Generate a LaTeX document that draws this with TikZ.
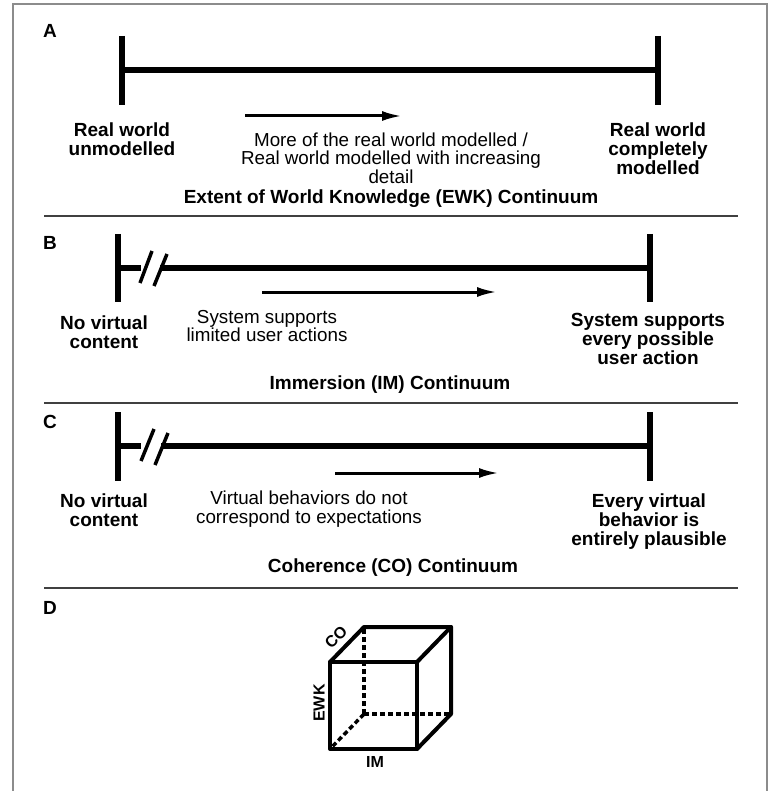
\documentclass[tikz,border=0pt]{standalone}
\usepackage{fontspec}
\setmainfont{Liberation Sans}
\usetikzlibrary{arrows.meta,positioning}

\begin{document}
\begin{tikzpicture}[
x=1pt,y=-1pt,
BarLine/.style={line width=6.5pt},
TickLine/.style={line width=6.5pt},
SlashLine/.style={line width=3.5pt},
TrendArrow/.style={line width=3pt,-{Latex[length=20pt,width=10pt]}},
Divider/.style={draw=black!75,line width=2pt},
FrameLine/.style={draw=black!45,line width=1.2pt},
CubeEdge/.style={line width=4pt,line cap=round,line join=round},
CubeHidden/.style={line width=3.5pt,dash pattern=on 5pt off 3pt},
PanelLabel/.style={font=\fontsize{19}{19}\selectfont\bfseries,inner sep=0pt,anchor=base},
EndText/.style={font=\fontsize{19}{19}\selectfont\bfseries,align=center,inner sep=0pt},
MidText/.style={font=\fontsize{18.8}{18.5}\selectfont,align=center,inner sep=0pt},
TitleText/.style={font=\fontsize{19}{19}\selectfont\bfseries,inner sep=0pt,anchor=base},
AxisText/.style={font=\fontsize{16}{16}\selectfont\bfseries,inner sep=0pt}
]
\useasboundingbox (0,0) rectangle (771,791);

\coordinate (F1) at (13,791);
\coordinate (F2) at (13,4);
\coordinate (F3) at (767,4);
\coordinate (F4) at (767,791);
\draw[FrameLine] (F1)--(F2)--(F3)--(F4);

% A
\node[PanelLabel] (labA) at (50,38) {A};
\coordinate (aL) at (122,70);
\coordinate (aR) at (658,70);
\coordinate (aLt) at (122,36);
\coordinate (aLb) at (122,105);
\coordinate (aRt) at (658,36);
\coordinate (aRb) at (658,105);
\draw[BarLine] (aL)--(aR);
\draw[TickLine] (aLt)--(aLb);
\draw[TickLine] (aRt)--(aRb);
\coordinate (aS) at (245,116);
\coordinate (aE) at (402,116);
\draw[TrendArrow] (aS)--(aE);
\node[EndText] (aLeft) at (122,139) {Real world\\unmodelled};
\node[EndText] (aRight) at (658,149) {Real world\\completely\\modelled};
\node[MidText] (aMid) at (391,158) {More of the real world modelled /\\Real world modelled with increasing\\detail};
\node[TitleText] (aTitle) at (391,204) {Extent of World Knowledge (EWK) Continuum};
\coordinate (d1L) at (44,216);
\coordinate (d1R) at (738,216);
\draw[Divider] (d1L)--(d1R);

% B
\node[PanelLabel] (labB) at (50,250) {B};
\coordinate (bL) at (118,268);
\coordinate (bR) at (650,268);
\coordinate (bLt) at (118,234);
\coordinate (bLb) at (118,302);
\coordinate (bRt) at (650,234);
\coordinate (bRb) at (650,302);
\coordinate (bG1) at (141,268);
\coordinate (bG2) at (160,268);
\coordinate (bS1a) at (152,251);
\coordinate (bS1b) at (140,283);
\coordinate (bS2a) at (167,254);
\coordinate (bS2b) at (154,286);
\draw[BarLine] (bL)--(bG1);
\draw[BarLine] (bG2)--(bR);
\draw[SlashLine] (bS1a)--(bS1b);
\draw[SlashLine] (bS2a)--(bS2b);
\draw[TickLine] (bLt)--(bLb);
\draw[TickLine] (bRt)--(bRb);
\coordinate (bS) at (262,292);
\coordinate (bE) at (497,292);
\draw[TrendArrow] (bS)--(bE);
\node[EndText] (bLeft) at (104,332) {No virtual\\content};
\node[EndText] (bRight) at (648,339) {System supports\\every possible\\user action};
\node[MidText] (bMid) at (267,326) {System supports\\limited user actions};
\node[TitleText] (bTitle) at (390,389) {Immersion (IM) Continuum};
\coordinate (d2L) at (44,403);
\coordinate (d2R) at (738,403);
\draw[Divider] (d2L)--(d2R);

% C
\node[PanelLabel] (labC) at (50,428) {C};
\coordinate (cL) at (118,446);
\coordinate (cR) at (650,446);
\coordinate (cLt) at (118,412);
\coordinate (cLb) at (118,481);
\coordinate (cRt) at (650,412);
\coordinate (cRb) at (650,481);
\coordinate (cG1) at (141,446);
\coordinate (cG2) at (161,446);
\coordinate (cS1a) at (154,429);
\coordinate (cS1b) at (141,461);
\coordinate (cS2a) at (168,433);
\coordinate (cS2b) at (155,465);
\draw[BarLine] (cL)--(cG1);
\draw[BarLine] (cG2)--(cR);
\draw[SlashLine] (cS1a)--(cS1b);
\draw[SlashLine] (cS2a)--(cS2b);
\draw[TickLine] (cLt)--(cLb);
\draw[TickLine] (cRt)--(cRb);
\coordinate (cS) at (335,473);
\coordinate (cE) at (499,473);
\draw[TrendArrow] (cS)--(cE);
\node[EndText] (cLeft) at (104,510) {No virtual\\content};
\node[EndText] (cRight) at (649,522) {Every virtual\\behavior is\\entirely plausible};
\node[MidText] (cMid) at (309,509) {Virtual behaviors do not\\correspond to expectations};
\node[TitleText] (cTitle) at (393,572) {Coherence (CO) Continuum};
\coordinate (d3L) at (44,588);
\coordinate (d3R) at (738,588);
\draw[Divider] (d3L)--(d3R);

% D
\node[PanelLabel] (labD) at (50,614) {D};
\coordinate (f1) at (330,749);
\coordinate (f2) at (417,749);
\coordinate (f3) at (417,662);
\coordinate (f4) at (330,662);
\coordinate (k1) at (364,714);
\coordinate (k2) at (451,714);
\coordinate (k3) at (451,627);
\coordinate (k4) at (364,627);
\draw[CubeHidden] (k1)--(k4);
\draw[CubeHidden] (k1)--(k2);
\draw[CubeHidden] (k1)--(f1);
\draw[CubeEdge] (f1)--(f2)--(f3)--(f4)--cycle;
\draw[CubeEdge] (f4)--(k4)--(k3)--(k2)--(f2);
\draw[CubeEdge] (f3)--(k3);
\node[AxisText] (axIM) at (375,762) {IM};
\node[AxisText,rotate=90] (axEWK) at (319,703) {EWK};
\node[AxisText,rotate=45] (axCO) at (336,637) {CO};

\end{tikzpicture}
\end{document}
